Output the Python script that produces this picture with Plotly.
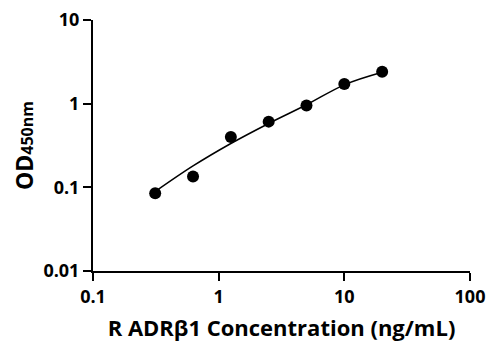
import plotly.graph_objects as go

# Data
conc = [0.3125, 0.625, 1.25, 2.5, 5, 10, 20]
od = [0.085, 0.135, 0.40, 0.61, 0.95, 1.72, 2.40]

# Fitted curve as traced on the picture
fit_x = [0.3125, 0.625, 1.25, 2.5, 5, 10, 20]
fit_y = [0.089, 0.18, 0.334, 0.58, 0.97, 1.68, 2.37]

x_ticks = [0.1, 1, 10, 100]
x_tick_text = ["0.1", "1", "10", "100"]
y_ticks = [0.01, 0.1, 1, 10]
y_tick_text = ["0.01", "0.1", "1", "10"]

font_family = "Open Sans"

fig = go.Figure()
fig.add_trace(go.Scatter(
    x=fit_x, y=fit_y, mode="lines",
    line=dict(color="black", width=1.5, shape="spline"),
    showlegend=False, hoverinfo="skip"))
fig.add_trace(go.Scatter(
    x=conc, y=od, mode="markers",
    marker=dict(color="black", size=12, symbol="circle"),
    showlegend=False))

axis_common = dict(
    type="log", showgrid=False, zeroline=False, automargin=False,
    showline=True, linecolor="black", linewidth=2,
    ticks="outside", ticklen=8, tickwidth=2, tickcolor="black",
    tickfont=dict(family=font_family, size=18, color="black", weight="bold"),
    ticklabeloverflow="allow",
    mirror=False,
)

fig.update_xaxes(
    **axis_common, range=[-1, 2],
    tickvals=x_ticks, ticktext=x_tick_text,
    title=dict(text="R ADRβ1 Concentration (ng/mL)",
               font=dict(family=font_family, size=22, color="black", weight="bold"),
               standoff=14),
)
fig.update_yaxes(
    **axis_common, range=[-2, 1],
    tickvals=y_ticks, ticktext=y_tick_text,
    title=dict(text="OD<span style='font-size:16px'>450nm</span>",
               font=dict(family=font_family, size=23, color="black", weight="bold"),
               standoff=8),
)

# page body has an 8px margin, so the figure is sized to fit the window
fig.update_layout(
    width=491, height=348,
    margin=dict(l=85, r=29, t=12, b=85),
    plot_bgcolor="white", paper_bgcolor="white",
)

fig.write_html("out.html")
